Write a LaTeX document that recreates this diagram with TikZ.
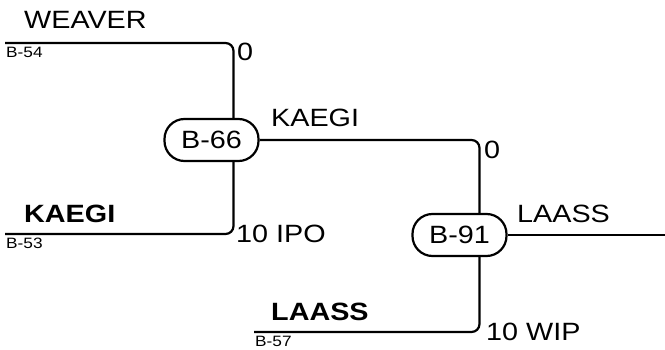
\documentclass[tikz,border=0pt]{standalone}
\usepackage{fontspec}
\setmainfont[FakeStretch=1.15]{Liberation Sans}
\usetikzlibrary{positioning,calc}
\tikzset{
  game/.style={draw, line width=2.2pt, rounded corners=20pt, minimum width=94pt,
    minimum height=42pt, inner sep=0pt, font=\fontsize{25}{29}\selectfont},
  bracket/.style={line width=2.2pt, rounded corners=8pt},
  teamname/.style={inner sep=0pt, font=\fontsize{25}{29}\selectfont},
  winner/.style={inner sep=0pt, font=\fontsize{25}{29}\selectfont\bfseries},
  seed/.style={inner sep=0pt, font=\fontsize{15}{17}\selectfont},
  score/.style={inner sep=0pt, font=\fontsize{25}{29}\selectfont}
}

\begin{document}
\begin{tikzpicture}[x=1pt, y=-1pt]
    \useasboundingbox (0,0) rectangle (665,350);

    % games
    \node[game] (b66) at (211.5,140) {B-66};
    \node[game] (b91) at (459.5,235) {B-91};

    % open ends of the bracket
    \coordinate (b54) at (5,43);
    \coordinate (b53) at (5,234);
    \coordinate (b57) at (254,332);
    \coordinate (final) at (665,235);

    \draw[bracket] (b54) -| ([xshift=22pt]b66.north);
    \draw[bracket] ([xshift=22pt]b66.south) |- (b53);
    \draw[bracket] (b66.east) -| ([xshift=20pt]b91.north);
    \draw[bracket] ([xshift=20pt]b91.south) |- (b57);
    \draw[bracket] (b91.east) -- (final);

    % teams and seeds
    \node[teamname, anchor=base west] (weaver) at (24,29) {WEAVER};
    \node[seed, anchor=north west] (s54) at (6,47) {B-54};
    \node[winner, anchor=base west] (kaegi) at (24,223) {KAEGI};
    \node[seed, anchor=north west] (s53) at (6,238) {B-53};
    \node[winner, anchor=base west] (laass) at (271,320) {LAASS};
    \node[seed, anchor=north west] (s57) at (255,336) {B-57};

    % winners and scores
    \node[teamname, anchor=base west] (win66) at (271,127) {KAEGI};
    \node[teamname, anchor=base west] (win91) at (517,223) {LAASS};
    \node[score, anchor=north west] (sc54) at (237,43) {0};
    \node[score, anchor=base west] (sc53) at (236,243) {10 IPO};
    \node[score, anchor=north west] (sc66) at (484,141) {0};
    \node[score, anchor=base west] (sc57) at (486,341) {10 WIP};
  \end{tikzpicture}
\end{document}
